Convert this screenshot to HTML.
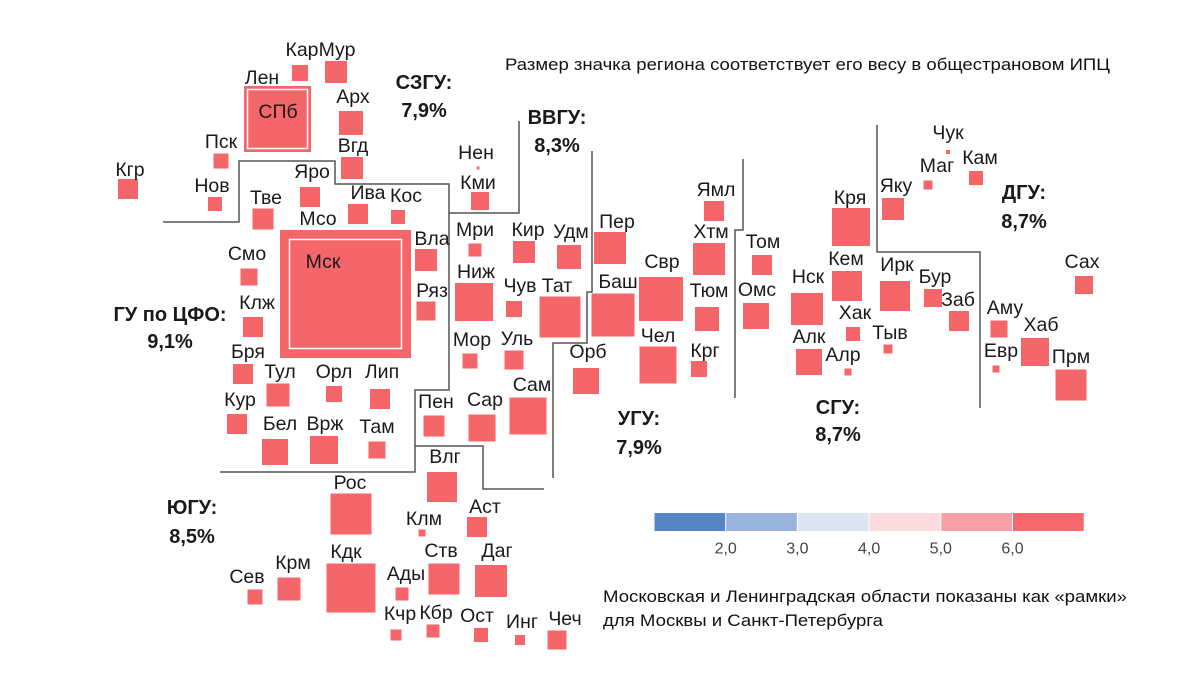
<!DOCTYPE html>
<html><head><meta charset="utf-8">
<style>
html,body{margin:0;padding:0;background:#fff;}
svg{display:block;font-family:"Liberation Sans","DejaVu Sans",sans-serif;}
.lbl{font-size:19.5px;fill:#1a1a1a;text-anchor:middle;dominant-baseline:central;}
.reg{font-size:20px;font-weight:bold;fill:#1a1a1a;text-anchor:middle;dominant-baseline:central;}
.note{font-size:17px;fill:#111;}
.tick{font-size:16px;fill:#444;text-anchor:middle;dominant-baseline:central;}
</style></head>
<body>
<svg id="chart" width="1200" height="679" viewBox="0 0 1200 679">
<g id="borders" fill="none" stroke="#555" stroke-width="1.5">
<polyline points="163,222 239,222 239,161 335,161 335,184 449,184 449,390 415,390 415,472 220,472"/>
<polyline points="415,446 483,446 483,489 544,489"/>
<polyline points="449,213 519,213 519,121"/>
<polyline points="592,151 592,292 587,292 587,343 553,343 553,478"/>
<polyline points="743,159 743,230 735,230 735,398"/>
<polyline points="877,125 877,252 980,252 980,408"/>
</g>
<g id="frames">
<rect x="244" y="86" width="67" height="66" fill="#f5666b"/>
<rect x="247.5" y="89.5" width="60" height="59" fill="none" stroke="#fff" stroke-width="1.5"/>
<rect x="280" y="230" width="131" height="128" fill="#f5666b"/>
<rect x="289.5" y="239.5" width="112" height="109" fill="none" stroke="#fff" stroke-width="1.5"/>
<text class="lbl" x="262" y="78">Лен</text>
<text class="lbl" x="278" y="112">СПб</text>
<text class="lbl" x="318" y="219">Мсо</text>
<text class="lbl" x="323" y="262">Мск</text>
</g>
<g id="tiles"></g>
<g id="regions">
<text class="reg" x="424" y="83">СЗГУ:</text><text class="reg" x="424" y="111">7,9%</text>
<text class="reg" x="557" y="118">ВВГУ:</text><text class="reg" x="557" y="146">8,3%</text>
<text class="reg" x="170" y="315">ГУ по ЦФО:</text><text class="reg" x="170" y="342">9,1%</text>
<text class="reg" x="1024" y="193">ДГУ:</text><text class="reg" x="1024" y="222">8,7%</text>
<text class="reg" x="639" y="419">УГУ:</text><text class="reg" x="639" y="448">7,9%</text>
<text class="reg" x="838" y="408">СГУ:</text><text class="reg" x="838" y="435">8,7%</text>
<text class="reg" x="192" y="508">ЮГУ:</text><text class="reg" x="192" y="537">8,5%</text>
</g>
<text class="note" x="505" y="70" textLength="605" lengthAdjust="spacingAndGlyphs">Размер значка региона соответствует его весу в общестрановом ИПЦ</text>
<g id="legend"></g>
<text class="note" x="603" y="602" textLength="524" lengthAdjust="spacingAndGlyphs">Московская и Ленинградская области показаны как «рамки»</text>
<text class="note" x="603" y="626" textLength="280" lengthAdjust="spacingAndGlyphs">для Москвы и Санкт-Петербурга</text>
</svg>
<script>
const names=["Кар","Мур","Арх","Вгд","Пск","Нов","Кгр","Яро","Тве","Ива","Кос","Вла","Ряз","Смо","Клж","Бря","Тул","Орл","Лип","Кур","Бел","Врж","Там","Пен","Сар","Сам","Мор","Уль","Нен","Кми","Мри","Кир","Удм","Ниж","Чув","Тат","Пер","Баш","Свр","Орб","Чел","Ямл","Хтм","Тюм","Крг","Том","Омс","Нск","Алк","Кря","Кем","Хак","Алр","Ирк","Тыв","Бур","Заб","Яку","Маг","Чук","Кам","Сах","Аму","Хаб","Евр","Прм","Влг","Аст","Клм","Рос","Кдк","Ств","Даг","Ады","Сев","Крм","Кчр","Кбр","Ост","Инг","Чеч"];
const iconSize=[16,22,24,22,15,14,20,20,21,20,14,22,19,17,20,20,23,16,20,20,26,28,17,21,27,37,15,19,3,18,13,22,24,38,16,41,32,43,44,26,37,20,32,24,16,20,26,32,26,38,30,14,7,30,9,18,20,22,9,4,14,18,17,28,7,31,30,20,7,41,49,31,32,13,15,23,11,13,14,10,19];
const tileX=[300,336,351,352,221,215,128,310,263,358,398,426,426,249,253,243,278,334,380,237,275,324,377,434,482,528,470,514,478,480,475,524,569,474,514,560,610,613,661,586,658,714,709,707,699,762,756,807,809,851,847,853,848,895,888,933,959,893,928,948,976,1084,999,1035,996,1071,442,477,422,351,351,444,491,402,255,289,396,433,481,520,557];
const tileY=[73,72,123,168,161,204,189,197,219,214,217,260,311,277,327,374,395,394,399,424,452,450,450,426,428,416,361,360,168,201,250,252,257,302,309,317,248,315,299,381,365,211,259,319,369,265,316,309,362,227,286,334,372,296,349,298,321,209,185,152,178,285,329,352,369,385,487,527,533,514,588,579,581,594,597,589,635,631,635,640,640];
const labelX=[302,337,353,353,221,212,130,312,266,368,406,432,432,247,257,248,280,334,382,240,280,325,377,436,485,532,472,517,476,478,475,528,571,476,520,557,617,618,662,588,658,716,711,709,705,763,757,808,809,850,846,855,843,897,890,935,958,896,937,948,980,1082,1005,1041,1001,1071,445,485,424,350,346,441,497,406,247,293,400,436,477,522,565];
const labelY=[50,50,97,146,142,186,170,172,198,193,196,239,291,254,303,352,372,372,372,400,424,424,427,402,400,385,340,339,153,183,230,230,232,272,286,286,222,282,262,352,336,190,232,291,351,242,290,277,337,198,259,313,355,265,333,277,300,186,166,133,158,262,308,325,351,357,457,507,519,483,552,551,551,574,577,563,614,613,616,622,619];
const legendTicks=["2,0","3,0","4,0","5,0","6,0"];
const legendColors=["#5585c5","#98b4dc","#dce6f3","#fcdbe0","#f9a1a6","#f5676d"];
const NS="http://www.w3.org/2000/svg";
const sizeScale=v=>v;
const g=document.getElementById('tiles');
names.forEach((n,i)=>{
  const s=sizeScale(iconSize[i]);
  const r=document.createElementNS(NS,'rect');
  r.setAttribute('x',tileX[i]-s/2);r.setAttribute('y',tileY[i]-s/2);
  r.setAttribute('width',s);r.setAttribute('height',s);r.setAttribute('fill','#f5666b');
  
  
  g.appendChild(r);
  const t=document.createElementNS(NS,'text');
  t.setAttribute('class','lbl');t.setAttribute('x',labelX[i]);t.setAttribute('y',labelY[i]);
  t.textContent=n;
  
  
  g.appendChild(t);
});
const lg=document.getElementById('legend');
const lx0=654,lw=71.7;
legendColors.forEach((c,i)=>{
  const r=document.createElementNS(NS,'rect');
  r.setAttribute('x',lx0+i*lw+0.5);r.setAttribute('y',513);r.setAttribute('width',lw-1);r.setAttribute('height',18);r.setAttribute('fill',c);
  
  
  lg.appendChild(r);
});
legendTicks.forEach((t,i)=>{
  const e=document.createElementNS(NS,'text');
  e.setAttribute('class','tick');e.setAttribute('x',lx0+(i+1)*lw);e.setAttribute('y',549);e.textContent=t;
  
  
  lg.appendChild(e);
});
</script>
</body></html>
